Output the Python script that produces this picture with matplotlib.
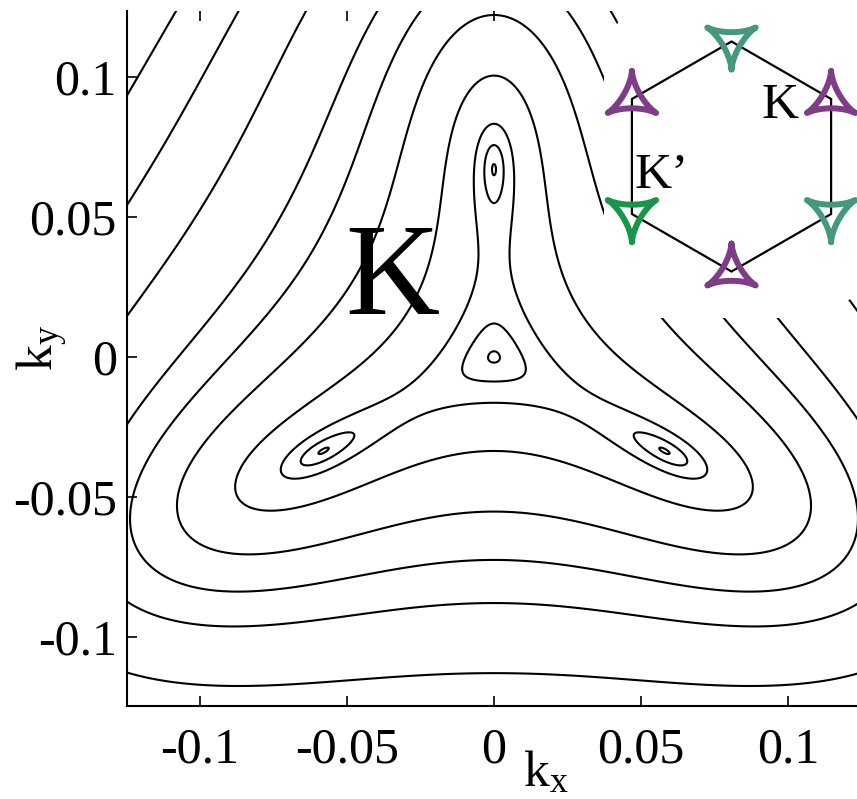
import numpy as np
import matplotlib
matplotlib.use('Agg')
import matplotlib.pyplot as plt
from matplotlib.patches import Polygon

plt.rcParams['font.family'] = ['Liberation Serif', 'DejaVu Serif']
plt.rcParams['mathtext.fontset'] = 'custom'
plt.rcParams['mathtext.rm'] = 'Liberation Serif'
plt.rcParams['mathtext.it'] = 'Liberation Serif:italic'

# ---------------- data ----------------
pocket_radius = 0.067            # distance of the three Lifshitz pockets from K
pocket_angle_deg = 90            # one pocket sits straight above K
contour_levels = [1.35e-4, 6.6e-4, 1.36e-3, 3.37e-3, 6.74e-3,
                  1.01e-2, 1.36e-2, 2.03e-2, 2.73e-2, 3.43e-2]
tick_values = [-0.1, -0.05, 0, 0.05, 0.1]
tick_labels = ['-0.1', '-0.05', '0', '0.05', '0.1']
kx_range = (-0.125, 0.125)
ky_range = (-0.1246, 0.1236)

# inset (Brillouin zone sketch)
corner_angles = [90, 30, -30, -90, -150, 150]
corner_valley = ["K'", 'K', "K'", 'K', "K'", 'K']
corner_colors = ['#45987a', '#7e3d86', '#45987a', '#7e3d86', '#17964a', '#7e3d86']

# ---------------- figure ----------------
W, H = 857, 799
fig = plt.figure(figsize=(W / 100, H / 100), dpi=100)
ax = fig.add_axes([126.5 / W, 93 / H, 735 / W, 695 / H])

kx = np.linspace(-0.13, 0.13, 1301)
ky = np.linspace(-0.13, 0.13, 1301)
KX, KY = np.meshgrid(kx, ky)
z = KX + 1j * KY
c = pocket_radius * np.exp(3j * np.deg2rad(pocket_angle_deg))
E = np.abs(z ** 2 - c * np.conj(z))

ax.contour(KX, KY, E, levels=contour_levels, colors='k', linewidths=1.5)
ax.set_xlim(*kx_range)
ax.set_ylim(*ky_range)
ax.set_xticks(tick_values)
ax.set_xticklabels(tick_labels)
ax.set_yticks(tick_values)
ax.set_yticklabels(tick_labels)
ax.tick_params(axis='both', direction='in', length=7, width=1.2,
               labelsize=36, color='k')
ax.tick_params(axis='x', top=True, pad=15)
ax.tick_params(axis='y', right=False, pad=7)
ax.spines['top'].set_visible(False)
ax.spines['right'].set_visible(False)
ax.spines['left'].set_linewidth(1.5)
ax.spines['bottom'].set_linewidth(1.5)

# ---------------- overlay in pixel coordinates ----------------
ov = fig.add_axes([0, 0, 1, 1])
ov.set_xlim(0, W)
ov.set_ylim(H, 0)
ov.axis('off')

ov.add_patch(Polygon([(604, 318), (604, 45), (632, 0), (W + 5, 0),
                      (W + 5, 295), (800, 318)],
                     closed=True, facecolor='white', edgecolor='none', zorder=0))

cx, cy, R = 731.5, 156.5, 115
vx = [cx + R * np.cos(np.deg2rad(a)) for a in corner_angles]
vy = [cy - R * np.sin(np.deg2rad(a)) for a in corner_angles]
ov.add_patch(Polygon(list(zip(vx, vy)), closed=True, fill=False,
                     edgecolor='k', linewidth=1.6, zorder=1))

t = np.linspace(0, 2 * np.pi, 400)
dx0 = 2 * np.cos(t) + np.cos(2 * t)
dy0 = 2 * np.sin(t) - np.sin(2 * t)
s = 9.3
for x0, y0, valley, col in zip(vx, vy, corner_valley, corner_colors):
    rot = np.deg2rad(90 if valley == 'K' else -90)
    xr = dx0 * np.cos(rot) - dy0 * np.sin(rot)
    yr = dx0 * np.sin(rot) + dy0 * np.cos(rot)
    ov.plot(x0 + s * xr, y0 - s * yr, color=col, lw=4.3,
            solid_joinstyle='round', solid_capstyle='round', zorder=2)

ov.text(780, 106, 'K', fontsize=37, ha='center', va='center', zorder=3)
ov.text(662, 176, 'K\u2019', fontsize=37, ha='center', va='center', zorder=3)
ov.text(392, 282, 'K', fontsize=94, ha='center', va='center', zorder=3)

ov.text(42, 348, r'$\mathrm{k_y}$', fontsize=37, rotation=90,
        ha='center', va='center')
ov.text(546, 774, r'$\mathrm{k_x}$', fontsize=37, ha='center', va='center')

fig.savefig('out.png', dpi=100)
